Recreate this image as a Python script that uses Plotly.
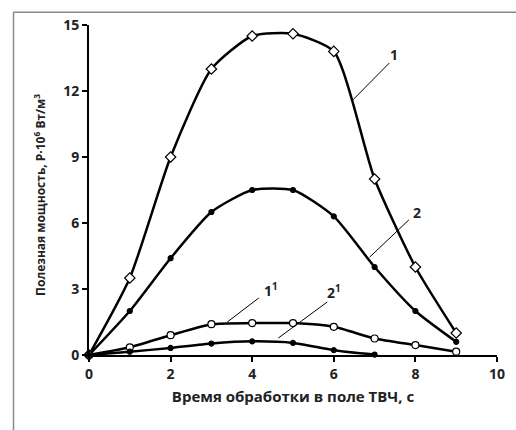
import plotly.graph_objects as go

x = [0, 1, 2, 3, 4, 5, 6, 7, 8, 9]
s1 = [0, 3.5, 9.0, 13.0, 14.5, 14.6, 13.8, 8.0, 4.0, 1.0]
s2 = [0, 2.0, 4.4, 6.5, 7.5, 7.5, 6.3, 4.0, 2.0, 0.6]
s1b = [0, 0.35, 0.9, 1.4, 1.45, 1.45, 1.28, 0.75, 0.45, 0.15]
x2b = [0, 1, 2, 3, 4, 5, 6, 7]
s2b = [0, 0.15, 0.32, 0.52, 0.62, 0.55, 0.22, 0.02]

xticks = [0, 2, 4, 6, 8, 10]
yticks = [0, 3, 6, 9, 12, 15]

FONT = "Open Sans"
fig = go.Figure()

def add(xs, ys, symbol, size, fill):
    fig.add_trace(go.Scatter(
        x=xs, y=ys, mode="lines+markers", line=dict(color="black", width=2.5, shape="spline", smoothing=0.6),
        marker=dict(symbol=symbol, size=size, color=fill, line=dict(color="black", width=1.2)),
        cliponaxis=False, showlegend=False))

add(x, s1, "diamond", 8, "white")
add(x, s2, "circle", 5, "black")
add(x, s1b, "circle", 7, "white")
add(x2b, s2b, "circle", 5, "black")

leaders = [
    ((6.47, 11.6), (7.36, 13.27), "1", (7.47, 13.65)),
    ((6.88, 4.45), (7.84, 6.14), "2", (8.05, 6.5)),
    ((3.39, 1.5), (4.16, 2.59), "1<sup>1</sup>", (4.45, 2.95)),
    ((4.64, 0.77), (5.84, 2.41), "2<sup>1</sup>", (6.0, 2.85)),
]
for (x0, y0), (x1, y1), txt, (tx, ty) in leaders:
    fig.add_shape(type="line", x0=x0, y0=y0, x1=x1, y1=y1, xref="x", yref="y",
                  line=dict(color="black", width=1))
    fig.add_annotation(x=tx, y=ty, text=f"<b>{txt}</b>", showarrow=False,
                       font=dict(family=FONT, size=14, color="#222"))

# y-axis title
fig.add_annotation(xref="paper", yref="paper", x=-0.147, y=0.485, textangle=-90, showarrow=False,
                   text="<b>Полезная мощность, P·10<sup>6</sup> Вт/м<sup>3</sup></b>",
                   font=dict(family=FONT, size=12, color="#222"))

# outer frame (top and left edges visible)
fig.add_shape(type="line", xref="paper", yref="paper", x0=-0.185, y0=1.039, x1=1.1, y1=1.039,
              line=dict(color="#888", width=1.5))
fig.add_shape(type="line", xref="paper", yref="paper", x0=-0.185, y0=1.039, x1=-0.185, y1=-0.3,
              line=dict(color="#888", width=1.5))

fig.update_layout(
    width=516, height=430, margin=dict(l=89, r=11, t=25, b=75),
    plot_bgcolor="white", paper_bgcolor="white",
    font=dict(family=FONT, size=14, color="#222"),
    xaxis=dict(range=[0, 10], tickvals=xticks, ticktext=[f"<b>{v}</b>" for v in xticks],
               showgrid=False, zeroline=False, showline=True, linecolor="black", linewidth=2,
               ticks="outside", ticklen=5, tickwidth=2, tickcolor="black", tickfont=dict(size=14),
               title=dict(text="<b>Время обработки в поле ТВЧ, с</b>", font=dict(size=15), standoff=10)),
    yaxis=dict(range=[0, 15], tickvals=yticks, ticktext=[f"<b>{v}</b>" for v in yticks],
               showgrid=False, zeroline=False, showline=True, linecolor="black", linewidth=2,
               ticks="outside", ticklen=5, tickwidth=2, tickcolor="black", tickfont=dict(size=14)),
)

fig.write_html("out.html")
